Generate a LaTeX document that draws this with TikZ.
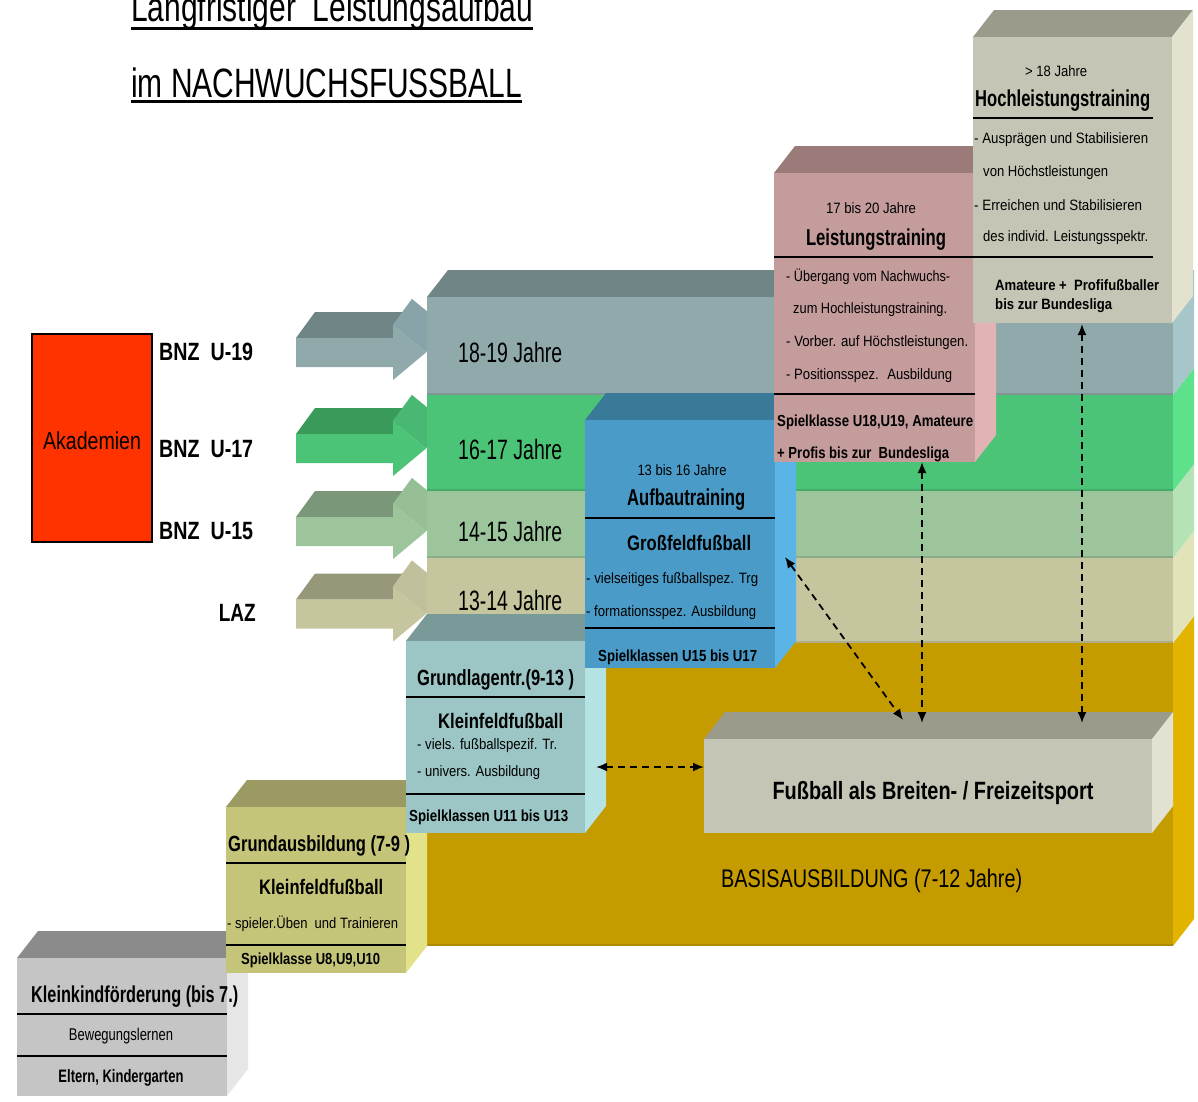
\documentclass[tikz,border=0pt]{standalone}
\usepackage{fontspec}
\setmainfont{Liberation Sans}
\usepackage{graphicx}
\usetikzlibrary{arrows.meta}
\newcommand\fsz[1]{\fontsize{#1pt}{#1pt}\selectfont}
\newcommand\tw[2]{\resizebox{#1pt}{\height}{#2}}
% 3D box: x1,y1,x2,y2,front,top,side
\newcommand\cubo[7]{%
 \fill[#6] (#1,#2) -- (#1+21,#2-27) -- (#3+21,#2-27) -- (#3,#2) -- cycle;
 \fill[#7] (#3,#2) -- (#3+21,#2-27) -- (#3+21,#4-27) -- (#3,#4) -- cycle;
 \fill[#5] (#1,#2) rectangle (#3,#4);}
% strip: ytop,ybot,front,side
\newcommand\strp[4]{%
 \fill[#4] (1173,#1) -- (1194,#1-27) -- (1194,#2-27) -- (1173,#2) -- cycle;
 \fill[#3] (427,#1) rectangle (1173,#2);
 \draw[line width=2pt,#3!88!black] (427,#2-1) -- (1173,#2-1);}
% 3D arrow: yc, front, top, head
\newcommand\arrd[4]{%
 \fill[#3] (296,#1-14.5) -- (315,#1-40.5) -- (412,#1-40.5) -- (393,#1-14.5) -- cycle;
 \fill[#4] (393,#1-14.5) -- (412,#1-40.5) -- (412,#1-53.5) -- (393,#1-27.5) -- cycle;
 \fill[#4] (393,#1-27.5) -- (412,#1-53.5) -- (445,#1-26.5) -- (426,#1) -- cycle;
 \fill[#2] (296,#1-14.5) -- (393,#1-14.5) -- (393,#1-27.5) -- (426,#1) -- (393,#1+27.5) -- (393,#1+14.5) -- (296,#1+14.5) -- cycle;}
\definecolor{sgF}{HTML}{90A9AB}\definecolor{sgT}{HTML}{6F8586}\definecolor{sgS}{HTML}{A6C6CA}\definecolor{sgH}{HTML}{88A4A8}
\definecolor{grF}{HTML}{4CC477}\definecolor{grT}{HTML}{3A9A5A}\definecolor{grS}{HTML}{5DE28B}\definecolor{grH}{HTML}{48B873}
\definecolor{lgF}{HTML}{9CC59C}\definecolor{lgT}{HTML}{7A977A}\definecolor{lgS}{HTML}{B5E3B5}\definecolor{lgH}{HTML}{96BF96}
\definecolor{beF}{HTML}{C5C59E}\definecolor{beT}{HTML}{97977A}\definecolor{beS}{HTML}{E3E3BA}\definecolor{beH}{HTML}{C0C09C}
\definecolor{goF}{HTML}{C59C00}\definecolor{goS}{HTML}{E2B400}
\definecolor{hlF}{HTML}{C5C5B5}\definecolor{hlT}{HTML}{9B9B8B}\definecolor{hlS}{HTML}{E2E2CF}
\definecolor{lsF}{HTML}{C59C9C}\definecolor{lsT}{HTML}{9B7A7A}\definecolor{lsS}{HTML}{E2B3B5}
\definecolor{abF}{HTML}{4A9BC8}\definecolor{abT}{HTML}{3A7A99}\definecolor{abS}{HTML}{5AB4E5}
\definecolor{glF}{HTML}{9CC5C5}\definecolor{glT}{HTML}{7A9A9A}\definecolor{glS}{HTML}{B5E3E3}
\definecolor{gaF}{HTML}{C5C57A}\definecolor{gaT}{HTML}{9A9A62}\definecolor{gaS}{HTML}{E2E28A}
\definecolor{kkF}{HTML}{C5C5C5}\definecolor{kkT}{HTML}{8B8B8B}\definecolor{kkS}{HTML}{E6E6E6}
\definecolor{fbF}{HTML}{C5C5B5}\definecolor{fbT}{HTML}{9B9B8B}\definecolor{fbS}{HTML}{E2E2D2}
\definecolor{akad}{HTML}{FF3300}
\begin{document}
\begin{tikzpicture}[x=1pt,y=-1pt,
 t/.style={inner sep=0pt,anchor=west},
 tc/.style={inner sep=0pt},
 sepl/.style={line width=2.6pt},
 darr/.style={{Latex[length=11pt,width=9pt]}-{Latex[length=11pt,width=9pt]},dash pattern=on 7pt off 5pt,line width=1.8pt}]
\useasboundingbox (0,0) rectangle (1198,1101);
\fill[white] (0,0) rectangle (1198,1101);

% Akademien
\node[draw,line width=2pt,fill=akad,minimum width=120pt,minimum height=208pt,inner sep=0pt] (akad) at (92,438) {};
\node[tc] (akadt) at (92,441) {\fsz{24.5}\tw{98}{Akademien}};
\node[t] (bnz19) at (159,352) {\fsz{25}\tw{94}{\bfseries BNZ~~U-19}};
\node[t] (bnz17) at (159,449) {\fsz{25}\tw{94}{\bfseries BNZ~~U-17}};
\node[t] (bnz15) at (159,531) {\fsz{25}\tw{94}{\bfseries BNZ~~U-15}};
\node[inner sep=0pt,anchor=east] (laz) at (256,613) {\fsz{25}\tw{37}{\bfseries LAZ}};

% 3D arrows
\arrd{352.5}{sgF}{sgT}{sgH}
\arrd{448.5}{grF}{grT}{grH}
\arrd{531.5}{lgF}{lgT}{lgH}
\arrd{614}{beF}{beT}{beH}

% gold base and strips
\strp{643}{946}{goF}{goS}
\strp{558}{643}{beF}{beS}
\strp{491}{558}{lgF}{lgS}
\strp{395}{491}{grF}{grS}
\fill[sgT] (427,297) -- (448,270) -- (1194,270) -- (1173,297) -- cycle;
\strp{297}{395}{sgF}{sgS}

% Fussball box
\cubo{704}{739}{1152}{833}{fbF}{fbT}{fbS}

% stair boxes
\cubo{17}{958}{227}{1096}{kkF}{kkT}{kkS}
\cubo{226}{807}{406}{973}{gaF}{gaT}{gaS}
\cubo{406}{641}{585}{833}{glF}{glT}{glS}
\cubo{585}{420}{775}{668}{abF}{abT}{abS}
\cubo{774}{173}{975}{462}{lsF}{lsT}{lsS}
\cubo{973}{37}{1172}{323}{hlF}{hlT}{hlS}

% separator lines
\draw[sepl] (973,118) -- (1153,118);
\draw[sepl] (774,257) -- (1153,257);
\draw[sepl] (774,394) -- (975,394);
\draw[sepl] (585,518) -- (775,518);
\draw[sepl] (585,628) -- (775,628);
\draw[sepl] (406,697) -- (585,697);
\draw[sepl] (406,794) -- (585,794);
\draw[sepl] (226,863) -- (406,863);
\draw[sepl] (226,945) -- (406,945);
\draw[sepl] (17,1014) -- (227,1014);
\draw[sepl] (17,1056) -- (227,1056);

% strip labels
\node[t] (s19) at (458,352) {\fsz{28}\tw{104}{18-19 Jahre}};
\node[t] (s17) at (458,449) {\fsz{28}\tw{104}{16-17 Jahre}};
\node[t] (s15) at (458,531) {\fsz{28}\tw{104}{14-15 Jahre}};
\node[t] (s14) at (458,600) {\fsz{28}\tw{104}{13-14 Jahre}};

% Hochleistung
\node[t] (hl1) at (1025,71) {\fsz{15}\tw{62}{> 18 Jahre}};
\node[t] (hl2) at (975,101) {\fsz{23}\tw{175}{\bfseries Hochleistungstraining}};
\node[t] (hl3) at (974,140) {\fsz{15}\tw{174}{- Ausprägen und Stabilisieren}};
\node[t] (hl4) at (983,173) {\fsz{15}\tw{125}{von Höchstleistungen}};
\node[t] (hl5) at (974,205) {\fsz{15}\tw{168}{- Erreichen und Stabilisieren}};
\node[t] (hl6) at (983,238) {\fsz{15}\tw{165}{des individ. Leistungsspektr.}};
\node[t] (hl7) at (995,285) {\fsz{15}\tw{164}{\bfseries Amateure +~ Profifußballer}};
\node[t] (hl8) at (995,306) {\fsz{15}\tw{117}{\bfseries bis zur Bundesliga}};

% Leistung
\node[tc] (ls1) at (871,208) {\fsz{15}\tw{90}{17 bis 20 Jahre}};
\node[tc] (ls2) at (876,240) {\fsz{23}\tw{140}{\bfseries Leistungstraining}};
\node[t] (ls3) at (786,277) {\fsz{15}\tw{164}{- Übergang vom Nachwuchs-}};
\node[t] (ls4) at (793,310) {\fsz{15}\tw{154}{zum Hochleistungstraining.}};
\node[t] (ls5) at (786,343) {\fsz{15}\tw{182}{- Vorber. auf Höchstleistungen.}};
\node[t] (ls6) at (786,376) {\fsz{15}\tw{166}{- Positionsspez.~ Ausbildung}};
\node[t] (ls7) at (777,422) {\fsz{16}\tw{196}{\bfseries Spielklasse U18,U19, Amateure}};
\node[t] (ls8) at (777,454) {\fsz{16}\tw{172}{\bfseries + Profis bis zur~ Bundesliga}};

% Aufbau
\node[tc] (ab1) at (682,470) {\fsz{15}\tw{89}{13 bis 16 Jahre}};
\node[t] (ab2) at (627,500) {\fsz{23}\tw{118}{\bfseries Aufbautraining}};
\node[t] (ab3) at (627,543) {\fsz{21}\tw{124}{\bfseries Großfeldfußball}};
\node[t] (ab4) at (586,580) {\fsz{15}\tw{172}{- vielseitiges fußballspez. Trg}};
\node[t] (ab5) at (586,613) {\fsz{15}\tw{170}{- formationsspez. Ausbildung}};
\node[t] (ab6) at (598,657) {\fsz{16}\tw{159}{\bfseries Spielklassen U15 bis U17}};

% Grundlagen
\node[t] (gl1) at (417,680) {\fsz{22}\tw{157}{\bfseries Grundlagentr.(9-13 )}};
\node[t] (gl2) at (438,721) {\fsz{21}\tw{125}{\bfseries Kleinfeldfußball}};
\node[t] (gl3) at (417,746) {\fsz{15}\tw{140}{- viels. fußballspezif. Tr.}};
\node[t] (gl4) at (417,773) {\fsz{15}\tw{123}{- univers. Ausbildung}};
\node[t] (gl5) at (409,817) {\fsz{16}\tw{159}{\bfseries Spielklassen U11 bis U13}};

% Grundausbildung
\node[t] (ga1) at (228,846) {\fsz{22}\tw{182}{\bfseries Grundausbildung (7-9 )}};
\node[t] (ga2) at (259,887) {\fsz{21}\tw{124}{\bfseries Kleinfeldfußball}};
\node[t] (ga3) at (227,924) {\fsz{15}\tw{171}{- spieler.Üben~ und Trainieren}};
\node[t] (ga4) at (241,960) {\fsz{16}\tw{139}{\bfseries Spielklasse U8,U9,U10}};

% Kleinkind
\node[t] (kk1) at (31,997) {\fsz{23}\tw{207}{\bfseries Kleinkindförderung (bis 7.)}};
\node[tc] (kk2) at (121,1036) {\fsz{17}\tw{104}{Bewegungslernen}};
\node[tc] (kk3) at (121,1078) {\fsz{18}\tw{125}{\bfseries Eltern, Kindergarten}};

% Fussball / Basis
\node[tc] (fb) at (933,793) {\fsz{25}\tw{321}{\bfseries Fußball als Breiten- / Freizeitsport}};
\node[t] (basis) at (721,881) {\fsz{25.5}\tw{301}{BASISAUSBILDUNG (7-12 Jahre)}};

% dashed connectors
\coordinate (d1a) at (785,557); \coordinate (d1b) at (903,720);
\coordinate (d2a) at (922,462); \coordinate (d2b) at (922,723);
\coordinate (d3a) at (1082,324); \coordinate (d3b) at (1082,723);
\coordinate (d4a) at (596,767); \coordinate (d4b) at (704,767);
\draw[darr] (d1a) -- (d1b);
\draw[darr] (d2a) -- (d2b);
\draw[darr] (d3a) -- (d3b);
\draw[darr] (d4a) -- (d4b);

% title
\node[inner sep=0pt,anchor=base west] (title1) at (131,21) {\fsz{41}\tw{402}{Langfristiger~ Leistungsaufbau}};
\draw[line width=3pt] (131,28) -- (533,28);
\node[inner sep=0pt,anchor=base west] (title2) at (131,97) {\fsz{41}\tw{391}{im NACHWUCHSFUSSBALL}};
\draw[line width=3pt] (131,101.5) -- (522,101.5);
\end{tikzpicture}
\end{document}
